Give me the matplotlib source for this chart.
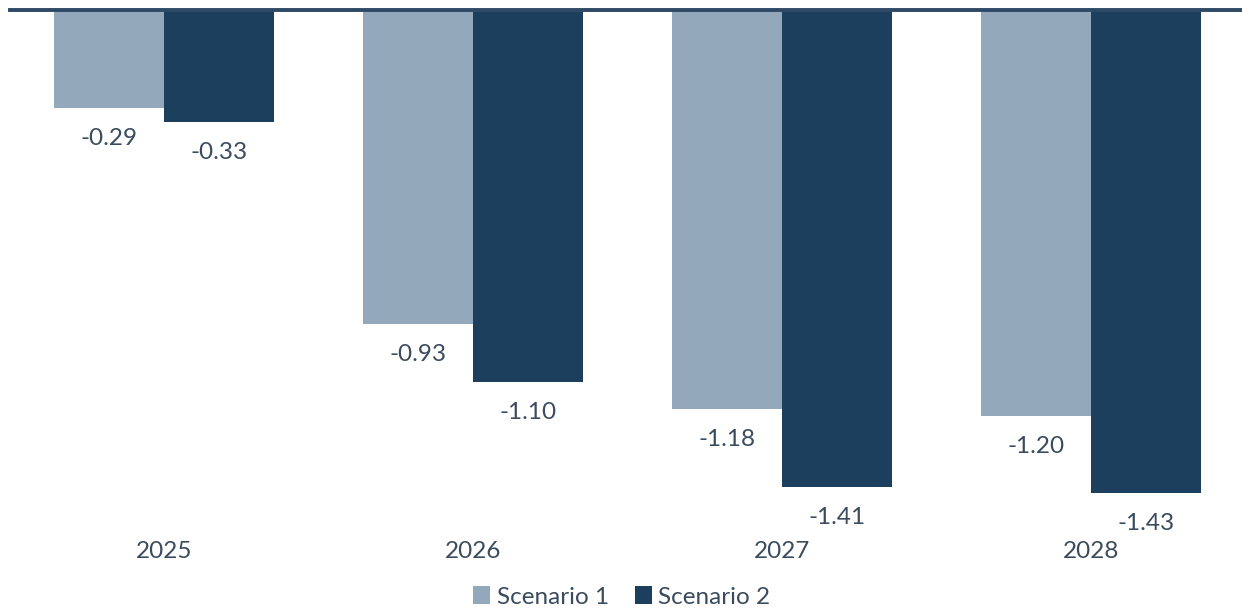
import numpy as np
import matplotlib
matplotlib.use("Agg")
import matplotlib.pyplot as plt

# data
years = ["2025", "2026", "2027", "2028"]
scenario_1 = [-0.29, -0.93, -1.18, -1.20]
scenario_2 = [-0.33, -1.10, -1.41, -1.43]
series_names = ["Scenario 1", "Scenario 2"]

light = "#94a8bc"
dark = "#1d3f5e"
text_col = "#3b4b5e"

plt.rcParams['font.family'] = ['Lato', 'DejaVu Sans']

W, H = 1242, 609
fig = plt.figure(figsize=(W / 100, H / 100), dpi=100)
# axes box in pixel terms: left 10, right 1245, top 10, bottom 534
ax = fig.add_axes([10 / W, 1 - 534 / H, 1235 / W, 524 / H])

x = np.arange(len(years))
bw = 0.356
b1 = ax.bar(x - bw / 2, scenario_1, bw, color=light, label=series_names[0])
b2 = ax.bar(x + bw / 2, scenario_2, bw, color=dark, label=series_names[1])

for bars, vals in ((b1, scenario_1), (b2, scenario_2)):
    for rect, v in zip(bars, vals):
        ax.annotate(f"{v:.2f}", (rect.get_x() + rect.get_width() / 2, v),
                    xytext=(0, -22), textcoords="offset points",
                    ha="center", va="center", fontsize=17.5, color=text_col)

ax.set_xlim(-0.5, 3.5)
ax.set_ylim(-1.55, 0)
ax.axhline(0, color="#2e4a66", lw=2.8, zorder=5, clip_on=False)

for s in ax.spines.values():
    s.set_visible(False)
ax.set_yticks([])
ax.set_xticks([])

for xi, yr in zip(x, years):
    ax.annotate(yr, (xi, 0), xycoords=("data", "figure fraction"),
                xytext=(xi, 1 - 552 / H), textcoords=("data", "figure fraction"),
                ha="center", va="center", fontsize=17.5, color=text_col)

leg = fig.legend(loc="center", bbox_to_anchor=(622 / W, 1 - 597 / H), ncol=2,
                 frameon=False, fontsize=17.5, handlelength=0.7, handleheight=0.7,
                 handletextpad=0.25, columnspacing=1.1, labelcolor=text_col)

fig.savefig("out.png", dpi=100)
